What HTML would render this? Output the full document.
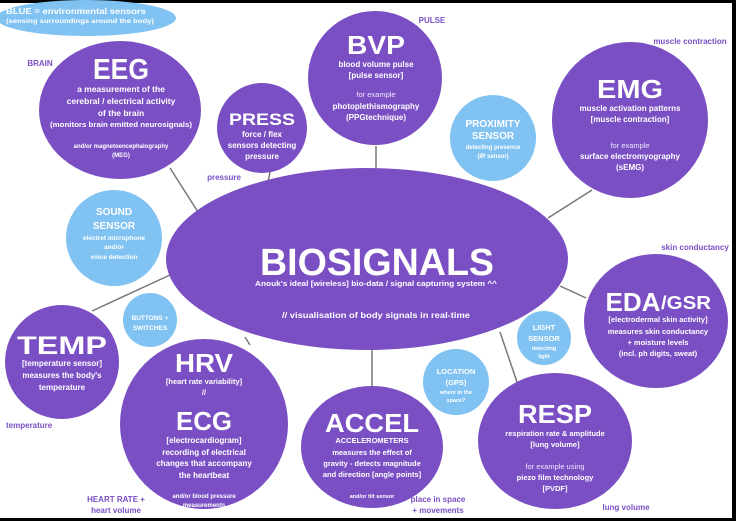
<!DOCTYPE html>
<html><head><meta charset="utf-8"><style>
html,body{margin:0;padding:0;background:#000;}
svg{display:block;}
text{font-family:"Liberation Sans",sans-serif;font-weight:bold;text-anchor:middle;}
.w{fill:#fff;}
.lb{fill:#f0e8ff;}
.p{fill:#7a4fc4;}
.lab{fill:#7a4fc4;font-size:8px;}
</style></head><body>
<svg width="736" height="521" viewBox="0 0 736 521" xmlns="http://www.w3.org/2000/svg">
<rect x="0" y="3" width="732" height="515" fill="#fff"/>
<g stroke="#777" stroke-width="1.5" fill="none">
<line x1="170" y1="168" x2="198" y2="212"/>
<line x1="270" y1="172" x2="268" y2="182"/>
<line x1="376" y1="146" x2="376" y2="170"/>
<line x1="592" y1="190" x2="548" y2="218"/>
<line x1="586" y1="298" x2="560" y2="286"/>
<line x1="500" y1="332" x2="517" y2="382"/>
<line x1="372" y1="350" x2="372" y2="390"/>
<line x1="245" y1="337" x2="250" y2="345"/>
<line x1="92" y1="311" x2="170" y2="275"/>
</g>
<ellipse cx="86" cy="18" rx="90" ry="18" fill="#80c2f2"/>
<ellipse cx="120" cy="110" rx="81" ry="69" fill="#7a4fc4"/>
<circle cx="262" cy="128" r="45" fill="#7a4fc4"/>
<ellipse cx="375" cy="78" rx="67" ry="67" fill="#7a4fc4"/>
<circle cx="493" cy="138" r="43" fill="#80c2f2"/>
<circle cx="630" cy="120" r="78" fill="#7a4fc4"/>
<ellipse cx="367" cy="259" rx="201" ry="91" fill="#7a4fc4"/>
<circle cx="114" cy="238" r="48" fill="#80c2f2"/>
<circle cx="62" cy="362" r="57" fill="#7a4fc4"/>
<circle cx="150" cy="320" r="27" fill="#80c2f2"/>
<ellipse cx="204" cy="424" rx="84" ry="85" fill="#7a4fc4"/>
<ellipse cx="372" cy="447" rx="71" ry="61" fill="#7a4fc4"/>
<circle cx="456" cy="382" r="33" fill="#80c2f2"/>
<circle cx="544" cy="338" r="27" fill="#80c2f2"/>
<ellipse cx="555" cy="441" rx="77" ry="68" fill="#7a4fc4"/>
<ellipse cx="656" cy="321" rx="72" ry="67" fill="#7a4fc4"/>

<text x="76" y="14" class="w" font-size="8" textLength="140" lengthAdjust="spacingAndGlyphs" style="text-anchor:middle">BLUE = environmental sensors</text>
<text x="80" y="23" class="w" font-size="6" textLength="148" lengthAdjust="spacingAndGlyphs">(sensing surroundings around the body)</text>

<text x="40" y="66" class="lab">BRAIN</text>
<text x="121" y="79" class="w" font-size="29" textLength="56" lengthAdjust="spacingAndGlyphs">EEG</text>
<text x="121" y="92" class="w" font-size="8.5">a measurement of the</text>
<text x="121" y="104" class="w" font-size="8.5">cerebral / electrical activity</text>
<text x="121" y="116" class="w" font-size="8.5">of the brain</text>
<text x="121" y="127" class="w" font-size="7" textLength="142" lengthAdjust="spacingAndGlyphs">(monitors brain emitted neurosignals)</text>
<text x="121" y="148" class="w" font-size="6">and/or magnetoencephalography</text>
<text x="121" y="157" class="w" font-size="6">(MEG)</text>

<text x="262" y="125" class="w" font-size="17" textLength="66" lengthAdjust="spacingAndGlyphs">PRESS</text>
<text x="262" y="137" class="w" font-size="8">force / flex</text>
<text x="262" y="148" class="w" font-size="8">sensors detecting</text>
<text x="262" y="159" class="w" font-size="8">pressure</text>
<text x="224" y="180" class="lab">pressure</text>

<text x="376" y="54" class="w" font-size="26" textLength="58" lengthAdjust="spacingAndGlyphs">BVP</text>
<text x="376" y="67" class="w" font-size="8">blood volume pulse</text>
<text x="376" y="78" class="w" font-size="8">[pulse sensor]</text>
<text x="376" y="97" class="lb" font-size="7.5" style="font-weight:normal">for example</text>
<text x="376" y="109" class="w" font-size="8">photoplethismography</text>
<text x="376" y="120" class="w" font-size="8">(PPGtechnique)</text>
<text x="432" y="23" class="lab">PULSE</text>

<text x="493" y="127" class="w" font-size="10">PROXIMITY</text>
<text x="493" y="139" class="w" font-size="10">SENSOR</text>
<text x="493" y="149" class="w" font-size="6">detecting presence</text>
<text x="493" y="158" class="w" font-size="6">(IR sensor)</text>

<text x="690" y="44" class="lab">muscle contraction</text>
<text x="630" y="98" class="w" font-size="26" textLength="66" lengthAdjust="spacingAndGlyphs">EMG</text>
<text x="630" y="111" class="w" font-size="8">muscle activation patterns</text>
<text x="630" y="122" class="w" font-size="8">[muscle contraction]</text>
<text x="630" y="148" class="lb" font-size="7.5" style="font-weight:normal">for example</text>
<text x="630" y="159" class="w" font-size="8">surface electromyography</text>
<text x="630" y="170" class="w" font-size="8">(sEMG)</text>

<text x="377" y="275" class="w" font-size="38" textLength="234" lengthAdjust="spacingAndGlyphs">BIOSIGNALS</text>
<text x="376" y="286" class="w" font-size="7" textLength="242" lengthAdjust="spacingAndGlyphs">Anouk's ideal [wireless] bio-data / signal capturing system ^^</text>
<text x="376" y="318" class="w" font-size="8" textLength="188" lengthAdjust="spacingAndGlyphs">// visualisation of body signals in real-time</text>

<text x="114" y="215" class="w" font-size="10">SOUND</text>
<text x="114" y="229" class="w" font-size="10">SENSOR</text>
<text x="114" y="240" class="w" font-size="6.5">electret microphone</text>
<text x="114" y="249" class="w" font-size="6.5">and/or</text>
<text x="114" y="259" class="w" font-size="6.5">voice detection</text>

<text x="62" y="354" class="w" font-size="25" textLength="90" lengthAdjust="spacingAndGlyphs">TEMP</text>
<text x="62" y="366" class="w" font-size="8">[temperature sensor]</text>
<text x="62" y="378" class="w" font-size="8">measures the body's</text>
<text x="62" y="390" class="w" font-size="8">temperature</text>
<text x="6" y="428" class="lab" style="text-anchor:start">temperature</text>

<text x="150" y="320" class="w" font-size="6.5">BUTTONS +</text>
<text x="150" y="330" class="w" font-size="6.5">SWITCHES</text>

<text x="204" y="372" class="w" font-size="26" textLength="58" lengthAdjust="spacingAndGlyphs">HRV</text>
<text x="204" y="384" class="w" font-size="7.5">[heart rate variability]</text>
<text x="204" y="395" class="w" font-size="7.5">//</text>
<text x="204" y="430" class="w" font-size="26" textLength="56" lengthAdjust="spacingAndGlyphs">ECG</text>
<text x="204" y="443" class="w" font-size="8">[electrocardiogram]</text>
<text x="204" y="455" class="w" font-size="8">recording of electrical</text>
<text x="204" y="466" class="w" font-size="8">changes that accompany</text>
<text x="204" y="478" class="w" font-size="8">the heartbeat</text>
<text x="204" y="498" class="w" font-size="6">and/or blood pressure</text>
<text x="204" y="507" class="w" font-size="6">measurements</text>
<text x="116" y="502" class="lab">HEART RATE +</text>
<text x="116" y="513" class="lab">heart volume</text>

<text x="372" y="432" class="w" font-size="26" textLength="94" lengthAdjust="spacingAndGlyphs">ACCEL</text>
<text x="372" y="443" class="w" font-size="7.5">ACCELEROMETERS</text>
<text x="372" y="455" class="w" font-size="7.5">measures the effect of</text>
<text x="372" y="466" class="w" font-size="7.5">gravity - detects  magnitude</text>
<text x="372" y="477" class="w" font-size="7.5">and direction [angle points]</text>
<text x="372" y="498" class="w" font-size="5.5">and/or tilt sensor</text>
<text x="438" y="502" class="lab">place in space</text>
<text x="438" y="513" class="lab">+ movements</text>

<text x="456" y="374" class="w" font-size="7.5">LOCATION</text>
<text x="456" y="385" class="w" font-size="7.5">(GPS)</text>
<text x="456" y="394" class="w" font-size="5.5">where in the</text>
<text x="456" y="402" class="w" font-size="5.5">space?</text>

<text x="544" y="330" class="w" font-size="7.5">LIGHT</text>
<text x="544" y="341" class="w" font-size="7.5">SENSOR</text>
<text x="544" y="350" class="w" font-size="5.5">detecting</text>
<text x="544" y="358" class="w" font-size="5.5">light</text>

<text x="555" y="423" class="w" font-size="26" textLength="74" lengthAdjust="spacingAndGlyphs">RESP</text>
<text x="555" y="436" class="w" font-size="7.5">respiration rate &amp; amplitude</text>
<text x="555" y="447" class="w" font-size="7.5">[lung volume]</text>
<text x="555" y="469" class="lb" font-size="7.5" style="font-weight:normal">for example using</text>
<text x="555" y="480" class="w" font-size="7.5">piezo film technology</text>
<text x="555" y="491" class="w" font-size="7.5">[PVDF]</text>
<text x="626" y="510" class="lab">lung volume</text>

<text x="695" y="250" class="lab">skin conductancy</text>
<text x="633" y="311" class="w" font-size="26" textLength="55" lengthAdjust="spacingAndGlyphs">EDA</text>
<text x="686" y="309" class="w" font-size="18" textLength="50" lengthAdjust="spacingAndGlyphs">/GSR</text>
<text x="658" y="322" class="w" font-size="7.5">[electrodermal skin activity]</text>
<text x="658" y="334" class="w" font-size="7.5">measures skin conductancy</text>
<text x="658" y="345" class="w" font-size="7.5">+ moisture levels</text>
<text x="658" y="356" class="w" font-size="7.5">(incl. ph digits, sweat)</text>
</svg>
</body></html>
